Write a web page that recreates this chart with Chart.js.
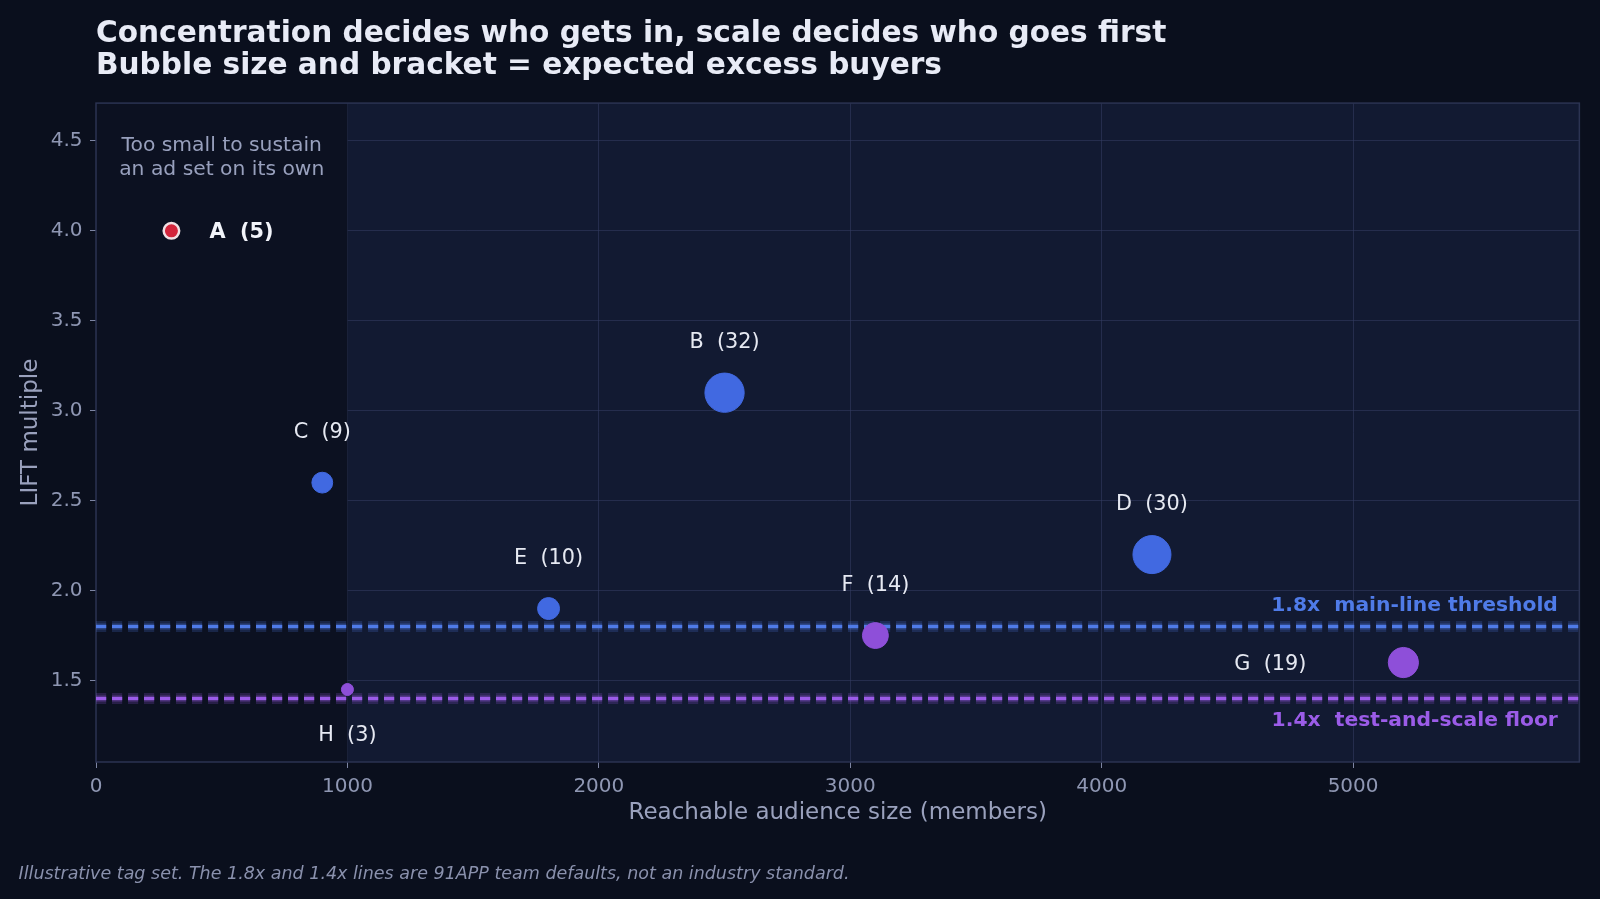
<!DOCTYPE html>
<html>
<head>
<meta charset="utf-8">
<script src="https://cdn.jsdelivr.net/npm/chart.js@4.4.1/dist/chart.umd.min.js"></script>
<style>
  html, body { margin: 0; padding: 0; background: #0a0f1d; }
  #wrap { position: relative; width: 1600px; height: 899px; }
  canvas { display: block; }
</style>
</head>
<body>
<div id="wrap"><canvas id="c" width="1600" height="899"></canvas></div>
<script>
// ---- data ----
const tags = ['A', 'B', 'C', 'D', 'E', 'F', 'G', 'H'];
const audience = [300, 2500, 900, 4200, 1800, 3100, 5200, 1000];
const lift = [4.0, 3.1, 2.6, 2.2, 1.9, 1.75, 1.6, 1.45];
const excessBuyers = [5, 32, 9, 30, 10, 14, 19, 3];
const thresholdValues = [1.8, 1.4];
const thresholdLabels = ['1.8x  main-line threshold', '1.4x  test-and-scale floor'];
const xTickValues = [0, 1000, 2000, 3000, 4000, 5000];
const yTickValues = [1.5, 2.0, 2.5, 3.0, 3.5, 4.0, 4.5];
const smallZoneEnd = 1000;
const smallZoneText = ['Too small to sustain', 'an ad set on its own'];
const titleLines = [
  'Concentration decides who gets in, scale decides who goes first',
  'Bubble size and bracket = expected excess buyers'
];
const footnote = 'Illustrative tag set. The 1.8x and 1.4x lines are 91APP team defaults, not an industry standard.';
const xAxisTitle = 'Reachable audience size (members)';
const yAxisTitle = 'LIFT multiple';

// ---- styles ----
const BLUE = '#4169e1';
const PURPLE = '#8e4fd9';
const RED = '#d3243b';
const pointColors = [RED, BLUE, BLUE, BLUE, BLUE, PURPLE, PURPLE, PURPLE];
const labelPlacement = ['right', 'above', 'above', 'above', 'above', 'above', 'left', 'below'];
const thresholdColors = ['#4f7be8', '#9b5ce8'];
const FONT = "'DejaVu Sans', 'Liberation Sans', sans-serif";

const bubbleData = tags.map((t, i) => ({ x: audience[i], y: lift[i], r: 3.47 * Math.sqrt(excessBuyers[i]) }));

const decorPlugin = {
  id: 'decor',
  beforeDraw(chart) {
    const { ctx, chartArea: a } = chart;
    ctx.save();
    ctx.fillStyle = '#0a0f1d';
    ctx.fillRect(0, 0, chart.width, chart.height);
    ctx.fillStyle = '#121a32';
    ctx.fillRect(a.left, a.top, a.right - a.left, a.bottom - a.top);
    ctx.restore();
  },
  beforeDatasetsDraw(chart) {
    const { ctx, chartArea: a, scales: { x, y } } = chart;
    ctx.save();
    // small-audience zone
    const xz = x.getPixelForValue(smallZoneEnd);
    ctx.fillStyle = '#0c1121';
    ctx.fillRect(a.left, a.top, xz - a.left, a.bottom - a.top);
    // zone text
    ctx.fillStyle = '#98a0bd';
    ctx.font = '20.3px ' + FONT;
    ctx.textAlign = 'center';
    ctx.textBaseline = 'middle';
    const cx = (a.left + xz) / 2;
    ctx.fillText(smallZoneText[0], cx, 146);
    ctx.fillText(smallZoneText[1], cx, 169.5);
    // border
    ctx.strokeStyle = '#2b3352';
    ctx.lineWidth = 1.5;
    ctx.strokeRect(a.left, a.top, a.right - a.left, a.bottom - a.top);
    // threshold lines
    thresholdValues.forEach((v, i) => {
      const py = y.getPixelForValue(v);
      ctx.save();
      ctx.setLineDash([10.2, 5.8]);
      ctx.lineCap = 'butt';
      ctx.strokeStyle = thresholdColors[i];
      ctx.globalAlpha = 0.2;
      ctx.lineWidth = 11;
      ctx.beginPath(); ctx.moveTo(a.left, py); ctx.lineTo(a.right, py); ctx.stroke();
      ctx.globalAlpha = 0.35;
      ctx.lineWidth = 6;
      ctx.beginPath(); ctx.moveTo(a.left, py); ctx.lineTo(a.right, py); ctx.stroke();
      ctx.globalAlpha = 1;
      ctx.lineWidth = 3;
      ctx.beginPath(); ctx.moveTo(a.left, py); ctx.lineTo(a.right, py); ctx.stroke();
      ctx.restore();
      ctx.fillStyle = thresholdColors[i];
      ctx.font = 'bold 20.3px ' + FONT;
      ctx.textAlign = 'right';
      ctx.textBaseline = 'middle';
      const ty = i === 0 ? py - 20.5 : py + 22.5;
      ctx.fillText(thresholdLabels[i], a.right - 21.5, ty);
    });
    ctx.restore();
  },
  afterDatasetsDraw(chart) {
    const { ctx, scales: { x, y } } = chart;
    ctx.save();
    ctx.textBaseline = 'middle';
    tags.forEach((t, i) => {
      const px = x.getPixelForValue(audience[i]);
      const py = y.getPixelForValue(lift[i]);
      const txt = t + '  (' + excessBuyers[i] + ')';
      const bold = i === 0;
      ctx.font = (bold ? 'bold ' : '') + '20.8px ' + FONT;
      ctx.fillStyle = bold ? '#f2f4fa' : '#e6e9f2';
      const pos = labelPlacement[i];
      if (pos === 'above') { ctx.textAlign = 'center'; ctx.fillText(txt, px, py - 50); }
      else if (pos === 'below') { ctx.textAlign = 'center'; ctx.fillText(txt, px, py + 46.5); }
      else if (pos === 'right') { ctx.textAlign = 'left'; ctx.fillText(txt, px + 38, py + 2); }
      else { ctx.textAlign = 'right'; ctx.fillText(txt, px - 97, py + 2); }
    });
    // titles
    ctx.textAlign = 'left';
    ctx.fillStyle = '#e8ebf6';
    ctx.font = 'bold 29.6px ' + FONT;
    ctx.fillText(titleLines[0], 96, 34);
    ctx.fillText(titleLines[1], 96, 66);
    ctx.fillStyle = '#8a91ad';
    ctx.font = 'italic 17.5px ' + FONT;
    ctx.fillText(footnote, 18.5, 874);
    ctx.restore();
  }
};

new Chart(document.getElementById('c'), {
  type: 'bubble',
  data: {
    datasets: [{
      data: bubbleData,
      backgroundColor: pointColors,
      borderColor: pointColors.map((c, i) => i === 0 ? '#f1dfe3' : c),
      borderWidth: pointColors.map((c, i) => i === 0 ? 2.5 : 1),
      hoverRadius: 0
    }]
  },
  options: {
    responsive: false,
    animation: false,
    events: [],
    layout: { padding: { left: 17, right: 19.4, top: 103.1, bottom: 72 } },
    plugins: { legend: { display: false }, tooltip: { enabled: false } },
    scales: {
      x: {
        type: 'linear',
        min: 0, max: 5900,
        afterFit(s) { s.height = 65; },
        afterBuildTicks(s) { s.ticks = xTickValues.map(v => ({ value: v })); },
        ticks: {
          autoSkip: false, padding: 7, maxRotation: 0,
          color: '#8f97b3', font: { family: FONT, size: 20 },
          callback: v => String(v)
        },
        grid: { color: 'rgba(52,62,100,0.55)', lineWidth: 1, tickColor: '#7d85a3', tickLength: 6 },
        border: { display: false },
        title: { display: true, text: xAxisTitle, color: '#9aa1bd', font: { family: FONT, size: 23 }, padding: 0 }
      },
      y: {
        type: 'linear',
        min: 1.047, max: 4.710,
        afterFit(s) { s.width = 79; },
        afterBuildTicks(s) { s.ticks = yTickValues.map(v => ({ value: v })); },
        ticks: {
          autoSkip: false, padding: 7.5,
          color: '#8f97b3', font: { family: FONT, size: 20 },
          callback: v => v.toFixed(1)
        },
        grid: { color: 'rgba(52,62,100,0.55)', lineWidth: 1, tickColor: '#7d85a3', tickLength: 6 },
        border: { display: false },
        title: { display: true, text: yAxisTitle, color: '#9aa1bd', font: { family: FONT, size: 23 }, padding: 0 }
      }
    }
  },
  plugins: [decorPlugin]
});
</script>
</body>
</html>
